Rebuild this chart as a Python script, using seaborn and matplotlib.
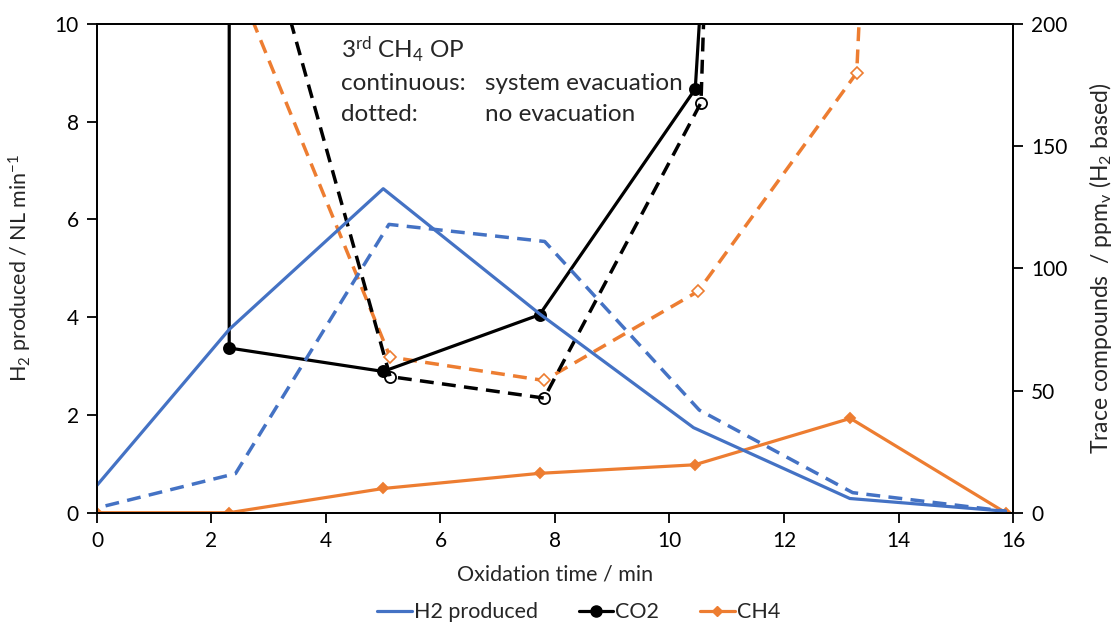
import matplotlib
matplotlib.use("Agg")
import matplotlib.pyplot as plt
import seaborn as sns
import pandas as pd
from matplotlib.lines import Line2D

# ---- data ----
x_h2 = [0.0, 2.31, 5.0, 7.73, 10.42, 13.15, 15.87]
h2_evac = [0.56, 3.75, 6.63, 4.07, 1.74, 0.29, 0.03]
x_h2_noevac = [0.15, 2.42, 5.1, 7.82, 10.52, 13.2, 15.88]
h2_noevac = [0.14, 0.80, 5.90, 5.55, 2.10, 0.41, 0.03]

x_co2 = [2.31, 2.31, 5.0, 7.73, 10.45, 13.15]
co2_evac = [1200, 67.4, 57.8, 81.0, 173.4, 1195]
x_co2_noevac = [2.43, 5.12, 7.81, 10.55, 13.22]
co2_noevac = [281, 55.7, 46.9, 167.8, 2100]

x_ch4 = [0.0, 2.31, 5.0, 7.73, 10.44, 13.16, 15.87]
ch4_evac = [0.0, 0.0, 9.9, 16.1, 19.6, 38.6, 0.0]
x_ch4_noevac = [2.43, 5.12, 7.81, 10.5, 13.27, 15.9]
ch4_noevac = [218, 63.7, 54.1, 90.6, 180, 1495]

legend_labels = ["H2 produced", "CO2", "CH4"]
x_ticks = [0, 2, 4, 6, 8, 10, 12, 14, 16]
y_left_ticks = [0, 2, 4, 6, 8, 10]
y_right_ticks = [0, 50, 100, 150, 200]

BLUE = "#4472C4"
ORANGE = "#ED7D31"
BLACK = "#000000"

sns.set_style("white")
plt.rcParams["font.family"] = ["Lato", "DejaVu Sans"]
plt.rcParams["mathtext.fontset"] = "custom"
plt.rcParams["mathtext.rm"] = "Lato"
plt.rcParams["mathtext.it"] = "Lato:italic"
plt.rcParams["mathtext.bf"] = "Lato:bold"

fig = plt.figure(figsize=(11.17, 6.24), dpi=100)
ax = fig.add_axes([0.0868, 0.1784, 0.8201, 0.7831])
ax2 = ax.twinx()

dash = (4, 2.4)
lw = 2.3

def line(a, xs, ys, color, ls="-", marker=None, mfc=None, ms=7, mew=1.3):
    df = pd.DataFrame({"x": xs, "y": ys})
    kw = dict(color=color, linewidth=lw, sort=False, estimator=None, ax=a)
    sns.lineplot(data=df, x="x", y="y", **kw)
    l = a.get_lines()[-1]
    if ls == "--":
        l.set_linewidth(lw + 0.2)
        l.set_dashes(dash)
    if marker:
        l.set_marker(marker)
        l.set_markersize(ms)
        l.set_markeredgewidth(mew)
        l.set_markeredgecolor(color)
        l.set_markerfacecolor(mfc if mfc else color)

# left axis: H2
line(ax, x_h2, h2_evac, BLUE)
line(ax, x_h2_noevac, h2_noevac, BLUE, ls="--")

# right axis: trace compounds
line(ax2, x_ch4, ch4_evac, ORANGE, marker="D", ms=5.5)
line(ax2, x_ch4_noevac, ch4_noevac, ORANGE, ls="--", marker="D", mfc="white", ms=6.5, mew=1.2)
line(ax2, x_co2, co2_evac, BLACK, marker="o", ms=8)
line(ax2, x_co2_noevac, co2_noevac, BLACK, ls="--", marker="o", mfc="none", ms=8, mew=1.3)

ax.set_xlim(0, 16)
ax.set_ylim(0, 10)
ax2.set_ylim(0, 200)
ax.set_xticks(x_ticks)
ax.set_yticks(y_left_ticks)
ax2.set_yticks(y_right_ticks)

for a in (ax, ax2):
    a.tick_params(axis="both", direction="out", length=7, width=1.3, color="black",
                  labelsize=15, labelcolor="black", pad=6)
    for s in a.spines.values():
        s.set_color("black")
        s.set_linewidth(1.3)
ax.tick_params(axis="x", bottom=True)
ax.tick_params(axis="y", left=True)
ax2.tick_params(axis="y", right=True)

ax.set_xlabel("Oxidation time / min", fontsize=15.5, labelpad=10)
ax.set_ylabel("H$_2$ produced / NL min$^{-1}$", fontsize=15.5, labelpad=15)
ax2.set_ylabel("Trace compounds  / ppm$_\\mathrm{v}$ (H$_2$ based)", fontsize=16.5, labelpad=14)

ax.set_zorder(ax2.get_zorder() + 1)
ax.patch.set_visible(False)

# annotation
tx = 4.26
fs = 17.5
ax.text(tx, 9.47, "3$^{\\mathrm{rd}}$ CH$_4$ OP", fontsize=fs, va="center", ha="left")
ax.text(tx, 8.79, "continuous:", fontsize=fs, va="center", ha="left")
ax.text(tx, 8.14, "dotted:", fontsize=fs, va="center", ha="left")
ax.text(6.77, 8.79, "system evacuation", fontsize=fs, va="center", ha="left")
ax.text(6.77, 8.14, "no evacuation", fontsize=fs, va="center", ha="left")

handles = [
    Line2D([], [], color=BLUE, lw=lw),
    Line2D([], [], color=BLACK, lw=lw, marker="o", ms=8),
    Line2D([], [], color=ORANGE, lw=lw, marker="D", ms=5.5),
]
fig.legend(handles, legend_labels, loc="center", bbox_to_anchor=(0.518, 0.019), ncol=3,
           frameon=False, fontsize=15.5, handlelength=1.6, columnspacing=1.9, handletextpad=0.1)

fig.savefig("out.png", dpi=100)
